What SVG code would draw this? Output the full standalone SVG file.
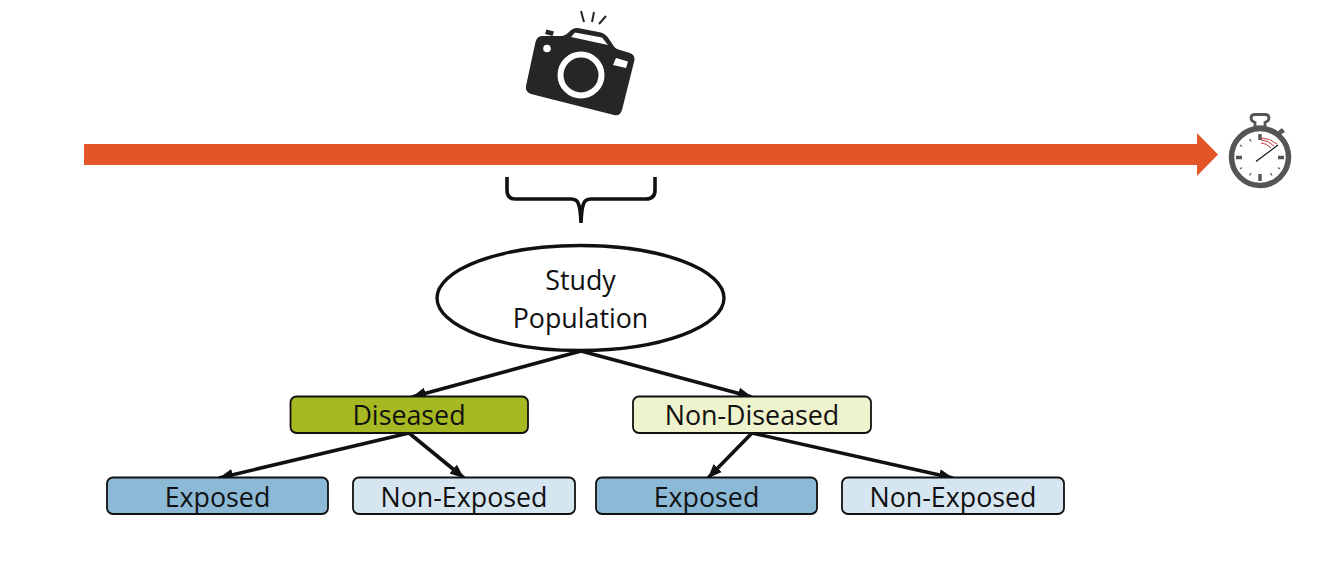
<svg xmlns="http://www.w3.org/2000/svg" width="1334" height="577" viewBox="0 0 1334 577">
<style>
.lbl{font-family:"Open Sans","Noto Sans",sans-serif;font-size:26.800px;fill:#111;text-anchor:middle}
.box{stroke:#111;stroke-width:1.800}
.conn{stroke:#111;stroke-width:3.600;fill:none;marker-end:url(#ah)}
.cam{fill:#262626}
.tick{stroke:#666;stroke-width:1.400}
.tickb{stroke:#555;stroke-width:3.400}
</style>
<defs>
<marker id="ah" markerUnits="userSpaceOnUse" markerWidth="14" markerHeight="12" refX="12" refY="5" orient="auto" viewBox="0 0 12 10"><path d="M0 0L12 5L0 10z" fill="#111"/></marker>
</defs>
<rect width="1334" height="577" fill="#fff"/>
<g id="timeline"><path d="M84 144H1197V133L1218 154.500L1197 176V165H84z" fill="#e35426"/></g>
<g id="camera">
<path class="cam" d="M542 36L561 36Q565 36 569 32Q573 27.500 578 28L601 32.500Q606 34 609 39L613 45Q615 49 620 50L630 53Q635 55 634.500 60L622 110Q620 116.500 614 115L531 94Q525 92 526 86L535.500 42Q537 36 542 36z"/>
<path class="cam" d="M546.500 29.500L554 31.500L552.500 36L545 34z"/>
<path d="M575 32.500L602 37.500L608 45L571 37z" fill="#fff"/>
<circle cx="547" cy="48.500" r="3.800" fill="#fff"/>
<path d="M616 58L628 61.500L626 68L613 65z" fill="#fff"/>
<circle cx="581" cy="75" r="20.500" fill="#262626" stroke="#fff" stroke-width="6"/>
<path d="M581 11L584 22M594 12L592 22M606 16L599 24" stroke="#262626" stroke-width="2" fill="none"/>
</g>
<g id="stopwatch">
<path d="M1255 127V122.500Q1251 121 1251 118Q1251 114.500 1255 114.500H1265Q1269 114.500 1269 118Q1269 121 1265 122.500V127z" fill="#fff" stroke="#555" stroke-width="2.800"/>
<path d="M1277 132L1282 128L1285 132L1280 135z" fill="#555"/>
<circle cx="1260" cy="157" r="28.500" fill="#fff" stroke="#555" stroke-width="5.500"/>
<path class="tickb" d="M1260 134V140M1260 174V181M1236 157.500H1242M1278 157.500H1284"/>
<path class="tick" d="M1249.500 139L1251 141.500M1240 145L1242 146.500M1240 169L1242 167.500M1249.500 175.500L1251 173M1270.500 173L1272 175.500M1278 167.500L1280 169"/>
<path d="M1261 140Q1268 140 1274 146M1261 143Q1266 143 1271 148M1261 138Q1270 138 1277 144" stroke="#c9383f" stroke-width="1" fill="none"/>
<path d="M1256 161.500L1278 145" stroke="#111" stroke-width="1.200"/>
</g>
<g id="brace"><path d="M507 177V190Q507 199 515 199H571Q577 199 578.500 204Q580.500 209 581 223Q581.500 209 583.500 204Q585 199 591 199H646Q655 199 655 190V177" fill="none" stroke="#111" stroke-width="3.600"/></g>
<g id="connectors">
<path class="conn" d="M581 351L412 397"/>
<path class="conn" d="M581 351L752 397"/>
<path class="conn" d="M409 433L219 478"/>
<path class="conn" d="M409 433L464 478"/>
<path class="conn" d="M752 433L708 478"/>
<path class="conn" d="M752 433L953 478"/>
</g>
<g id="study-population"><ellipse cx="580.500" cy="298" rx="143.500" ry="52.500" fill="#fff" stroke="#111" stroke-width="3.400"/><text class="lbl" x="580.500" y="290">Study</text><text class="lbl" x="580.500" y="328">Population</text></g>
<g id="diseased"><rect class="box" x="290.500" y="396.500" width="237.500" height="36.500" rx="6" fill="#a6b822"/><text class="lbl" x="409" y="425">Diseased</text></g>
<g id="non-diseased"><rect class="box" x="633" y="396.500" width="238" height="36.500" rx="6" fill="#eff3cd"/><text class="lbl" x="752" y="425">Non-Diseased</text></g>
<g id="exposed-1"><rect class="box" x="107" y="477.500" width="221" height="36.500" rx="6" fill="#8cb9d5"/><text class="lbl" x="217.500" y="507">Exposed</text></g>
<g id="non-exposed-1"><rect class="box" x="353" y="477.500" width="222" height="36.500" rx="6" fill="#d6e6f0"/><text class="lbl" x="464" y="507">Non-Exposed</text></g>
<g id="exposed-2"><rect class="box" x="596" y="477.500" width="221" height="36.500" rx="6" fill="#8cb9d5"/><text class="lbl" x="706.500" y="507">Exposed</text></g>
<g id="non-exposed-2"><rect class="box" x="842" y="477.500" width="222" height="36.500" rx="6" fill="#d6e6f0"/><text class="lbl" x="953" y="507">Non-Exposed</text></g>
</svg>
